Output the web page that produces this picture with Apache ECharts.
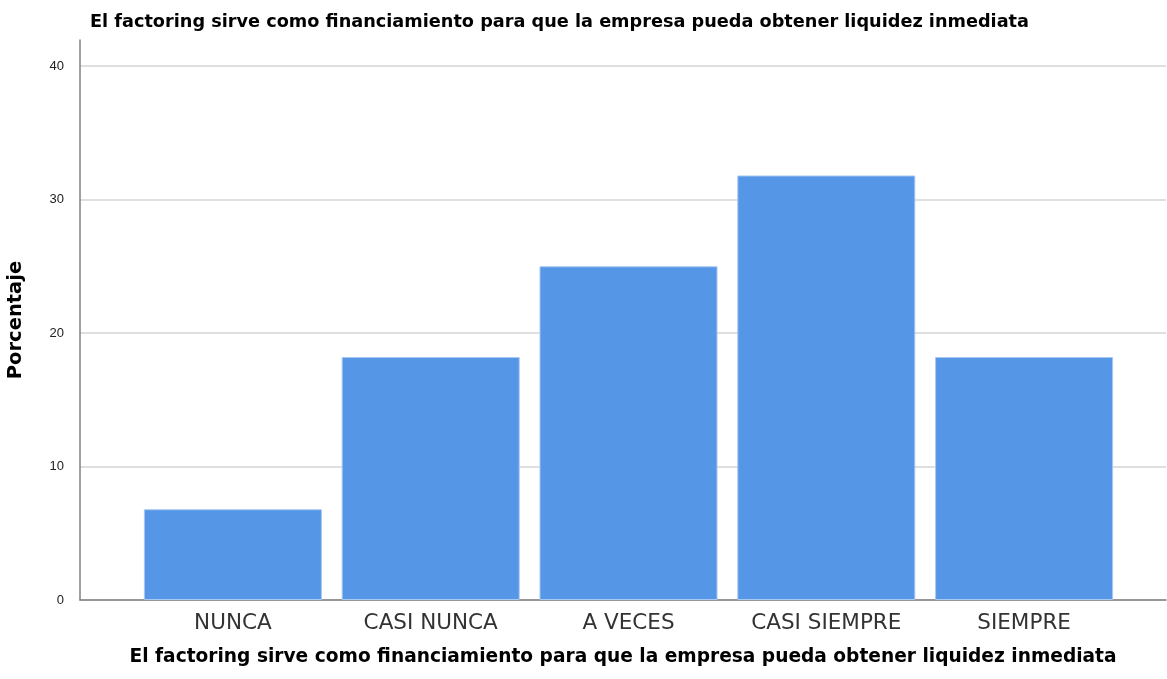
<!DOCTYPE html>
<html>
<head>
<meta charset="utf-8">
<script src="https://cdn.jsdelivr.net/npm/echarts@6/dist/echarts.min.js"></script>
<style>
  html, body { margin: 0; padding: 0; background: #fff; }
  #chart { width: 1167px; height: 679px; }
</style>
</head>
<body>
<div id="chart"></div>
<script>
// datos (porcentaje)
const categorias = ['NUNCA', 'CASI NUNCA', 'A VECES', 'CASI SIEMPRE', 'SIEMPRE']
const porcentajes = [6.8, 18.2, 25.0, 31.8, 18.2]
const ticksY = [0, 10, 20, 30, 40]

const titulo = 'El factoring sirve como financiamiento para que la empresa pueda obtener liquidez inmediata'
const fuente = '"DejaVu Sans", Arial, sans-serif'

const myChart = echarts.init(document.getElementById('chart'))

const option = {
  animation: false,
  title: {
    text: titulo,
    left: 85,
    top: 8,
    textStyle: { fontFamily: fuente, fontSize: 17.7, fontWeight: 'bold', color: '#000' }
  },
  grid: [
    // marco de ejes (línea vertical más alta que 40)
    { left: 80, right: 1, top: 40, bottom: 79, outerBoundsMode: 'none' },
    // líneas de cuadrícula y etiquetas del eje Y
    { left: 80, right: 1, top: 66, bottom: 79, outerBoundsMode: 'none' },
    // barras
    { left: 134, right: 44, top: 66, bottom: 79, outerBoundsMode: 'none' }
  ],
  xAxis: [
    {
      gridIndex: 0, type: 'value', min: 0, max: 1,
      axisLine: { show: true, lineStyle: { color: '#808080', width: 1.5 } },
      axisTick: { show: false }, axisLabel: { show: false }, splitLine: { show: false },
      name: titulo, nameLocation: 'middle', nameGap: 48,
      nameTextStyle: { fontFamily: fuente, fontSize: 18.6, fontWeight: 'bold', color: '#000' }
    },
    {
      gridIndex: 1, type: 'value', min: 0, max: 1, show: false
    },
    {
      gridIndex: 2, type: 'category', data: categorias,
      axisLine: { show: false }, axisTick: { show: false },
      axisLabel: { interval: 0, fontFamily: fuente, fontSize: 21.5, color: '#333', margin: 12 }
    }
  ],
  yAxis: [
    {
      gridIndex: 0, type: 'value', min: 0, max: 42,
      axisLine: { show: true, lineStyle: { color: '#808080', width: 1.5 } },
      axisTick: { show: false }, axisLabel: { show: false }, splitLine: { show: false },
      name: 'Porcentaje', nameLocation: 'middle', nameGap: 54, nameRotate: 90,
      nameTextStyle: { fontFamily: fuente, fontSize: 19.5, fontWeight: 'bold', color: '#000' }
    },
    {
      gridIndex: 1, type: 'value', min: 0, max: 40, interval: 10,
      axisLine: { show: false }, axisTick: { show: false },
      axisLabel: {
        fontFamily: '"Liberation Sans", Arial, sans-serif', fontSize: 13, color: '#222', margin: 16,
        formatter: v => ticksY.includes(v) ? String(v) : ''
      },
      splitLine: { show: true, lineStyle: { color: '#d4d4d4', width: 1.5 } }
    },
    {
      gridIndex: 2, type: 'value', min: 0, max: 40, show: false
    }
  ],
  series: [{
    type: 'bar',
    xAxisIndex: 2,
    yAxisIndex: 2,
    data: porcentajes,
    barCategoryGap: '10%',
    itemStyle: { color: '#5596e6', borderColor: '#a9c8f2', borderWidth: 1 },
    z: 3
  }]
}

myChart.setOption(option)
</script>
</body>
</html>
